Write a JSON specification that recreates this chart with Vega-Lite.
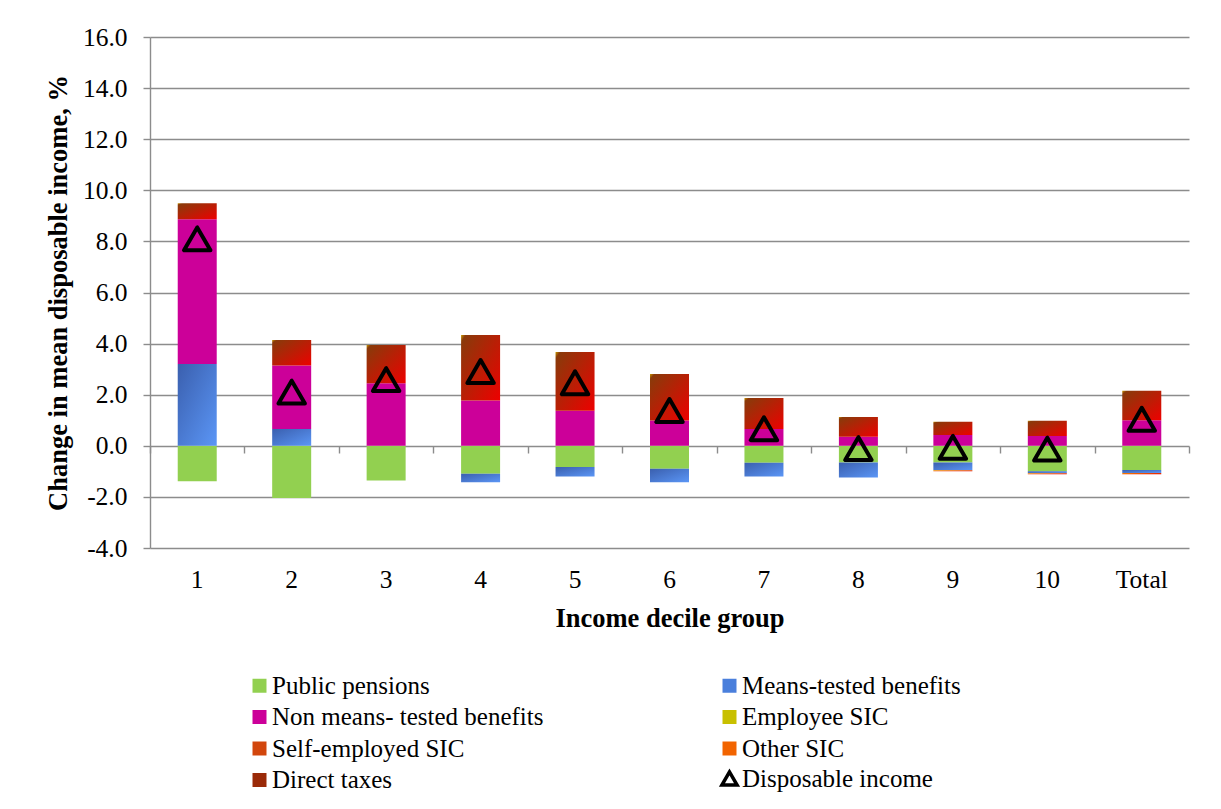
{
  "$schema": "https://vega.github.io/schema/vega-lite/v6.json",
  "width": 1039,
  "height": 511,
  "autosize": {"type": "none"},
  "padding": {"left": 150, "top": 37, "right": 32, "bottom": 261},
  "background": "white",
  "config": {
    "font": "Liberation Serif",
    "view": {"stroke": null},
    "style": {"guide-label": {"font": "Liberation Serif"}},
    "legend": {"labelFont": "Liberation Serif", "labelColor": "black"},
    "axis": {
      "labelFont": "Liberation Serif",
      "titleFont": "Liberation Serif",
      "labelColor": "black",
      "titleColor": "black",
      "labelFontSize": 25.5,
      "titleFontSize": 26.5,
      "titleFontWeight": "bold",
      "gridColor": "#8c8c8c",
      "gridWidth": 1.4,
      "domainColor": "#8c8c8c",
      "domainWidth": 1.4,
      "tickColor": "#8c8c8c",
      "tickWidth": 1.4
    }
  },
  "resolve": {"axis": {"x": "independent"}},
  "layer": [
    {
      "data": {
        "values": [
          {"decile": "1", "series": "Public pensions", "k": 0, "value": -1.39},
          {"decile": "1", "series": "Means-tested benefits", "k": 1, "value": 3.2},
          {"decile": "1", "series": "Non means- tested benefits", "k": 2, "value": 5.67},
          {"decile": "1", "series": "Direct taxes", "k": 6, "value": 0.62},
          {"decile": "2", "series": "Public pensions", "k": 0, "value": -2.04},
          {"decile": "2", "series": "Means-tested benefits", "k": 1, "value": 0.66},
          {"decile": "2", "series": "Non means- tested benefits", "k": 2, "value": 2.48},
          {"decile": "2", "series": "Direct taxes", "k": 6, "value": 1.0},
          {"decile": "3", "series": "Public pensions", "k": 0, "value": -1.36},
          {"decile": "3", "series": "Means-tested benefits", "k": 1, "value": 0.0},
          {"decile": "3", "series": "Non means- tested benefits", "k": 2, "value": 2.45},
          {"decile": "3", "series": "Direct taxes", "k": 6, "value": 1.5},
          {"decile": "4", "series": "Public pensions", "k": 0, "value": -1.09},
          {"decile": "4", "series": "Means-tested benefits", "k": 1, "value": -0.34},
          {"decile": "4", "series": "Non means- tested benefits", "k": 2, "value": 1.77},
          {"decile": "4", "series": "Direct taxes", "k": 6, "value": 2.57},
          {"decile": "5", "series": "Public pensions", "k": 0, "value": -0.83},
          {"decile": "5", "series": "Means-tested benefits", "k": 1, "value": -0.37},
          {"decile": "5", "series": "Non means- tested benefits", "k": 2, "value": 1.37},
          {"decile": "5", "series": "Direct taxes", "k": 6, "value": 2.3},
          {"decile": "6", "series": "Public pensions", "k": 0, "value": -0.9},
          {"decile": "6", "series": "Means-tested benefits", "k": 1, "value": -0.53},
          {"decile": "6", "series": "Non means- tested benefits", "k": 2, "value": 0.99},
          {"decile": "6", "series": "Direct taxes", "k": 6, "value": 1.82},
          {"decile": "7", "series": "Public pensions", "k": 0, "value": -0.66},
          {"decile": "7", "series": "Means-tested benefits", "k": 1, "value": -0.54},
          {"decile": "7", "series": "Non means- tested benefits", "k": 2, "value": 0.66},
          {"decile": "7", "series": "Direct taxes", "k": 6, "value": 1.21},
          {"decile": "8", "series": "Public pensions", "k": 0, "value": -0.65},
          {"decile": "8", "series": "Means-tested benefits", "k": 1, "value": -0.59},
          {"decile": "8", "series": "Non means- tested benefits", "k": 2, "value": 0.35},
          {"decile": "8", "series": "Direct taxes", "k": 6, "value": 0.78},
          {"decile": "9", "series": "Public pensions", "k": 0, "value": -0.65},
          {"decile": "9", "series": "Means-tested benefits", "k": 1, "value": -0.31},
          {"decile": "9", "series": "Non means- tested benefits", "k": 2, "value": 0.42},
          {"decile": "9", "series": "Other SIC", "k": 5, "value": -0.04},
          {"decile": "9", "series": "Direct taxes", "k": 6, "value": 0.52},
          {"decile": "10", "series": "Public pensions", "k": 0, "value": -1.0},
          {"decile": "10", "series": "Means-tested benefits", "k": 1, "value": -0.07},
          {"decile": "10", "series": "Non means- tested benefits", "k": 2, "value": 0.38},
          {"decile": "10", "series": "Other SIC", "k": 5, "value": -0.04},
          {"decile": "10", "series": "Direct taxes", "k": 6, "value": 0.6},
          {"decile": "Total", "series": "Public pensions", "k": 0, "value": -0.95},
          {"decile": "Total", "series": "Means-tested benefits", "k": 1, "value": -0.11},
          {"decile": "Total", "series": "Non means- tested benefits", "k": 2, "value": 1.0},
          {"decile": "Total", "series": "Other SIC", "k": 5, "value": -0.05},
          {"decile": "Total", "series": "Direct taxes", "k": 6, "value": 1.15}
        ]
      },
      "mark": {"type": "bar", "size": 39},
      "encoding": {
        "x": {
          "field": "decile",
          "type": "ordinal",
          "sort": ["1", "2", "3", "4", "5", "6", "7", "8", "9", "10", "Total"],
          "scale": {"paddingInner": 0, "paddingOuter": 0},
          "axis": {
            "title": "Income decile group",
            "labelAngle": 0,
            "ticks": false,
            "domain": false,
            "grid": false,
            "labelPadding": 19,
            "titlePadding": 13
          }
        },
        "y": {
          "field": "value",
          "type": "quantitative",
          "stack": "zero",
          "scale": {"domain": [-4, 16], "nice": false, "zero": false},
          "axis": {
            "title": "Change in mean disposable income, %",
            "values": [-4, -2, 0, 2, 4, 6, 8, 10, 12, 14, 16],
            "labelExpr": "replace(format(datum.value, '.1f'), '\u2212', '-')",
            "tickSize": 7,
            "labelPadding": 16,
            "titlePadding": 10
          }
        },
        "order": {"field": "k", "type": "quantitative", "sort": "ascending"},
        "color": {
          "field": "series",
          "type": "nominal",
          "scale": {
            "domain": ["Public pensions", "Means-tested benefits", "Non means- tested benefits", "Employee SIC", "Self-employed SIC", "Other SIC", "Direct taxes"],
            "range": ["#92d050", "#4a7fdc", "#cc0099", "#c8c000", "#d2460c", "#f26400", "#9a2a08"]
          },
          "legend": {
            "orient": "none",
            "legendX": 97,
            "legendY": 636,
            "columns": 2,
            "direction": "horizontal",
            "columnPadding": 173,
            "rowPadding": 5.5,
            "title": null,
            "symbolType": "square",
            "symbolSize": 196,
            "symbolStrokeWidth": 0,
            "labelFontSize": 25,
            "labelFont": "Liberation Serif",
            "labelColor": "black",
            "labelOffset": 0,
            "labelLimit": 0
          },
          "condition": [
            {
              "test": "datum.series === 'Direct taxes'",
              "value": {
                "gradient": "linear", "x1": 0, "y1": 0, "x2": 1, "y2": 1,
                "stops": [
                  {"offset": 0, "color": "#c89a00"},
                  {"offset": 0.06, "color": "#8a3a0a"},
                  {"offset": 1, "color": "#ee0000"}
                ]
              }
            },
            {
              "test": "datum.series === 'Means-tested benefits'",
              "value": {
                "gradient": "linear", "x1": 0, "y1": 0, "x2": 1, "y2": 1,
                "stops": [
                  {"offset": 0, "color": "#3a5fae"},
                  {"offset": 1, "color": "#5b96f6"}
                ]
              }
            },
            {
              "test": "datum.series === 'Other SIC'",
              "value": {
                "gradient": "linear", "x1": 0, "y1": 0, "x2": 1, "y2": 1,
                "stops": [
                  {"offset": 0, "color": "#ffa000"},
                  {"offset": 1, "color": "#e00000"}
                ]
              }
            }
          ]
        }
      }
    },
    {
      "data": {
        "values": [
          {"decile": "1", "di": 8.1},
          {"decile": "2", "di": 2.1},
          {"decile": "3", "di": 2.59},
          {"decile": "4", "di": 2.91},
          {"decile": "5", "di": 2.47},
          {"decile": "6", "di": 1.38},
          {"decile": "7", "di": 0.67},
          {"decile": "8", "di": -0.11},
          {"decile": "9", "di": -0.06},
          {"decile": "10", "di": -0.13},
          {"decile": "Total", "di": 1.04}
        ]
      },
      "mark": {"type": "point", "filled": false, "color": "black", "strokeWidth": 4, "size": 700, "opacity": 1, "strokeJoin": "round"},
      "encoding": {
        "x": {
          "field": "decile",
          "type": "ordinal",
          "sort": ["1", "2", "3", "4", "5", "6", "7", "8", "9", "10", "Total"],
          "axis": {
            "orient": "bottom",
            "offset": -102,
            "labels": false,
            "title": null,
            "domain": false,
            "grid": false,
            "ticks": true,
            "tickBand": "extent",
            "tickSize": 7
          }
        },
        "y": {
          "field": "di",
          "type": "quantitative",
          "axis": {
            "title": "Change in mean disposable income, %",
            "values": [-4, -2, 0, 2, 4, 6, 8, 10, 12, 14, 16],
            "labelExpr": "replace(format(datum.value, '.1f'), '\u2212', '-')",
            "tickSize": 7,
            "labelPadding": 16,
            "titlePadding": 10
          }
        },
        "shape": {
          "datum": "Disposable income",
          "scale": {"range": ["triangle-up"]},
          "legend": {
            "orient": "none",
            "legendX": 567,
            "legendY": 729,
            "title": null,
            "symbolSize": 230,
            "symbolStrokeWidth": 3.5,
            "symbolStrokeColor": "black",
            "symbolFillColor": "transparent",
            "labelFontSize": 25,
            "labelFont": "Liberation Serif",
            "labelColor": "black",
            "labelOffset": 0,
            "labelLimit": 0
          }
        }
      }
    }
  ]
}
